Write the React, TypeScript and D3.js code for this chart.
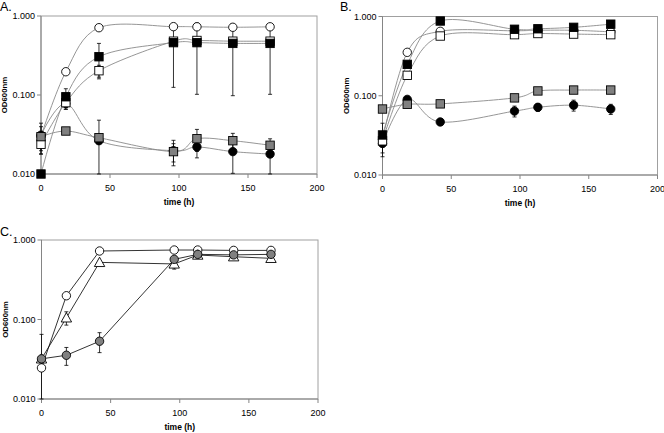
import React from 'react';
import * as d3 from 'd3';

// ---------- data ----------
const TIMES = [0, 18, 42, 96, 113, 139, 166];
const X_TICKS = [0, 50, 100, 150, 200];
const Y_TICKS = [0.01, 0.1, 1];

// Panel A
const A_OPEN_CIRCLE = [0.030, 0.197, 0.711, 0.733, 0.730, 0.720, 0.730];
const A_OPEN_CIRCLE_SD = [0.003, 0.01, 0.02, 0, 0, 0, 0];
const A_BLACK_CIRCLE = [0.031, 0.078, 0.0264, 0.0197, 0.022, 0.0192, 0.0179];
const A_BLACK_CIRCLE_SD = [0.013, 0.012, 0.0216, 0.007, 0.006, 0.009, 0.01];
const A_OPEN_SQUARE = [0.0238, 0.080, 0.203, 0.48, 0.49, 0.48, 0.48];
const A_OPEN_SQUARE_SD = [0.006, 0.014, 0.035, 0, 0, 0, 0];
const A_BLACK_SQUARE = [0.010, 0.095, 0.305, 0.46, 0.46, 0.45, 0.45];
const A_BLACK_SQUARE_SD = [0, 0.025, 0.145, 0.335, 0.358, 0.352, 0.348];
const A_GRAY_SQUARE = [0.0297, 0.035, 0.0288, 0.0192, 0.028, 0.0264, 0.0231];
const A_GRAY_SQUARE_SD = [0.01, 0.002, 0.003, 0.005, 0.0087, 0.0063, 0.002];

// Panel B
const B_OPEN_CIRCLE = [0.028, 0.353, 0.65, 0.66, 0.67, 0.67, 0.64];
const B_OPEN_CIRCLE_SD = [0, 0, 0, 0, 0, 0, 0];
const B_BLACK_CIRCLE = [0.025, 0.090, 0.0467, 0.064, 0.0715, 0.076, 0.068];
const B_BLACK_CIRCLE_SD = [0.008, 0, 0, 0.01, 0.008, 0.012, 0.01];
const B_OPEN_SQUARE = [0.027, 0.181, 0.567, 0.59, 0.61, 0.60, 0.59];
const B_OPEN_SQUARE_SD = [0, 0.02, 0, 0, 0, 0, 0];
const B_BLACK_SQUARE = [0.032, 0.249, 0.877, 0.69, 0.70, 0.73, 0.80];
const B_BLACK_SQUARE_SD = [0.013, 0, 0, 0, 0, 0, 0];
const B_GRAY_SQUARE = [0.068, 0.078, 0.079, 0.094, 0.115, 0.118, 0.118];
const B_GRAY_SQUARE_SD = [0, 0, 0, 0, 0, 0, 0];

// Panel C
const C_OPEN_CIRCLE = [0.0246, 0.199, 0.727, 0.748, 0.748, 0.74, 0.74];
const C_OPEN_CIRCLE_SD = [0, 0, 0, 0, 0, 0, 0];
const C_TRIANGLE = [0.032, 0.105, 0.523, 0.50, 0.647, 0.616, 0.588];
const C_TRIANGLE_SD = [0, 0.02, 0, 0.07, 0, 0.03, 0.03];
const C_GRAY_CIRCLE = [0.032, 0.0355, 0.0533, 0.571, 0.66, 0.65, 0.66];
const C_GRAY_CIRCLE_SD = [0.033, 0.009, 0.015, 0, 0, 0, 0];

// ---------- layout / style ----------
const FONT = "'Liberation Sans', Arial, Helvetica, sans-serif";
const GRAY = '#858585';

type Shape = 'circle' | 'square' | 'triangle';
interface Series { values: number[]; sd: number[]; shape: Shape; fill: string; }

const PANELS = [
  {
    label: 'A.', lx: 0, ly: 11, x0: 41, x1: 317, y0: 16, y1: 174, smooth: true,
    series: [
      { values: A_OPEN_CIRCLE, sd: A_OPEN_CIRCLE_SD, shape: 'circle', fill: '#fff' },
      { values: A_BLACK_CIRCLE, sd: A_BLACK_CIRCLE_SD, shape: 'circle', fill: '#000' },
      { values: A_OPEN_SQUARE, sd: A_OPEN_SQUARE_SD, shape: 'square', fill: '#fff' },
      { values: A_BLACK_SQUARE, sd: A_BLACK_SQUARE_SD, shape: 'square', fill: '#000' },
      { values: A_GRAY_SQUARE, sd: A_GRAY_SQUARE_SD, shape: 'square', fill: '#808080' },
    ] as Series[],
  },
  {
    label: 'B.', lx: 340, ly: 11, x0: 382.5, x1: 657.5, y0: 16.5, y1: 175, smooth: true,
    series: [
      { values: B_OPEN_CIRCLE, sd: B_OPEN_CIRCLE_SD, shape: 'circle', fill: '#fff' },
      { values: B_BLACK_CIRCLE, sd: B_BLACK_CIRCLE_SD, shape: 'circle', fill: '#000' },
      { values: B_OPEN_SQUARE, sd: B_OPEN_SQUARE_SD, shape: 'square', fill: '#fff' },
      { values: B_BLACK_SQUARE, sd: B_BLACK_SQUARE_SD, shape: 'square', fill: '#000' },
      { values: B_GRAY_SQUARE, sd: B_GRAY_SQUARE_SD, shape: 'square', fill: '#808080' },
    ] as Series[],
  },
  {
    label: 'C.', lx: 0, ly: 235.5, x0: 41.5, x1: 318, y0: 240, y1: 399, smooth: false,
    series: [
      { values: C_OPEN_CIRCLE, sd: C_OPEN_CIRCLE_SD, shape: 'circle', fill: '#fff' },
      { values: C_TRIANGLE, sd: C_TRIANGLE_SD, shape: 'triangle', fill: '#fff' },
      { values: C_GRAY_CIRCLE, sd: C_GRAY_CIRCLE_SD, shape: 'circle', fill: '#808080' },
    ] as Series[],
  },
];

function Marker({ shape, x, y, fill }: { shape: Shape; x: number; y: number; fill: string }) {
  const sw = 0.9;
  if (shape === 'circle') return <circle cx={x} cy={y} r={4.2} fill={fill} stroke="#000" strokeWidth={sw} />;
  if (shape === 'square') return <rect x={x - 4.2} y={y - 4.2} width={8.4} height={8.4} fill={fill} stroke="#000" strokeWidth={sw} />;
  const s = 5.2;
  return <path d={`M${x},${y - s}L${x + s},${y + s * 0.8}L${x - s},${y + s * 0.8}Z`} fill={fill} stroke="#000" strokeWidth={sw} />;
}

function Panel({ p }: { p: (typeof PANELS)[number] }) {
  const x = d3.scaleLinear().domain([0, 200]).range([p.x0, p.x1]);
  const y = d3.scaleLog().domain([0.01, 1]).range([p.y1, p.y0]).clamp(true);
  const fmt = d3.format('.3f');
  const line = d3
    .line<number>()
    .x((_, i) => x(TIMES[i]))
    .y((v) => y(v))
    .curve(p.smooth ? d3.curveCardinal.tension(0) : d3.curveLinear);
  const midY = (p.y0 + p.y1) / 2;
  const midX = (p.x0 + p.x1) / 2;
  return (
    <g fontFamily={FONT}>
      <text x={p.lx} y={p.ly} fontSize={12.5}>{p.label}</text>
      {/* frame */}
      <rect x={p.x0} y={p.y0} width={p.x1 - p.x0} height={p.y1 - p.y0} fill="#fff" stroke="#a0a0a0" strokeWidth={1} />
      <line x1={p.x0} x2={p.x0} y1={p.y0} y2={p.y1} stroke={GRAY} strokeWidth={1} />
      <line x1={p.x0} x2={p.x1} y1={p.y1} y2={p.y1} stroke={GRAY} strokeWidth={1} />
      {/* y ticks */}
      {Y_TICKS.map((t) => (
        <g key={'y' + t}>
          <line x1={p.x0 - 4} x2={p.x0} y1={y(t)} y2={y(t)} stroke={GRAY} />
          <text x={p.x0 - 6} y={y(t) + 3} fontSize={9} textAnchor="end" fill="#000">{fmt(t)}</text>
        </g>
      ))}
      {/* x ticks */}
      {X_TICKS.map((t) => (
        <g key={'x' + t}>
          <line x1={x(t)} x2={x(t)} y1={p.y1} y2={p.y1 + 4} stroke={GRAY} />
          <text x={x(t)} y={p.y1 + 17} fontSize={9} textAnchor="middle" fill="#000">{t}</text>
        </g>
      ))}
      <text x={midX} y={p.y1 + 31} fontSize={8.5} fontWeight="bold" textAnchor="middle">time (h)</text>
      <text transform={`translate(${p.x0 - 34},${midY}) rotate(-90)`} fontSize={7.8} fontWeight="bold" textAnchor="middle">OD600nm</text>
      {/* lines */}
      {p.series.map((s, i) => (
        <path key={'l' + i} d={line(s.values) || ''} fill="none" stroke={p.smooth ? '#8a8a8a' : '#000'} strokeWidth={p.smooth ? 0.9 : 0.8} />
      ))}
      {/* error bars */}
      {p.series.map((s, i) =>
        s.values.map((v, j) => {
          const e = s.sd[j];
          if (!e) return null;
          const cx = x(TIMES[j]);
          const yt = y(v + e);
          const yb = v - e > 0 ? y(v - e) : p.y1;
          return (
            <g key={`e${i}-${j}`} stroke="#000" strokeWidth={0.8}>
              <line x1={cx} x2={cx} y1={yt} y2={yb} />
              <line x1={cx - 2} x2={cx + 2} y1={yt} y2={yt} />
              <line x1={cx - 2} x2={cx + 2} y1={yb} y2={yb} />
            </g>
          );
        })
      )}
      {/* markers */}
      {p.series.map((s, i) =>
        s.values.map((v, j) => <Marker key={`m${i}-${j}`} shape={s.shape} x={x(TIMES[j])} y={y(v)} fill={s.fill} />)
      )}
    </g>
  );
}

export default function App() {
  return (
    <svg width={664} height={433} style={{ position: 'absolute', left: 0, top: 0, background: '#fff' }}>
      <rect width={664} height={433} fill="#fff" />
      {PANELS.map((p) => (
        <Panel key={p.label} p={p} />
      ))}
    </svg>
  );
}
